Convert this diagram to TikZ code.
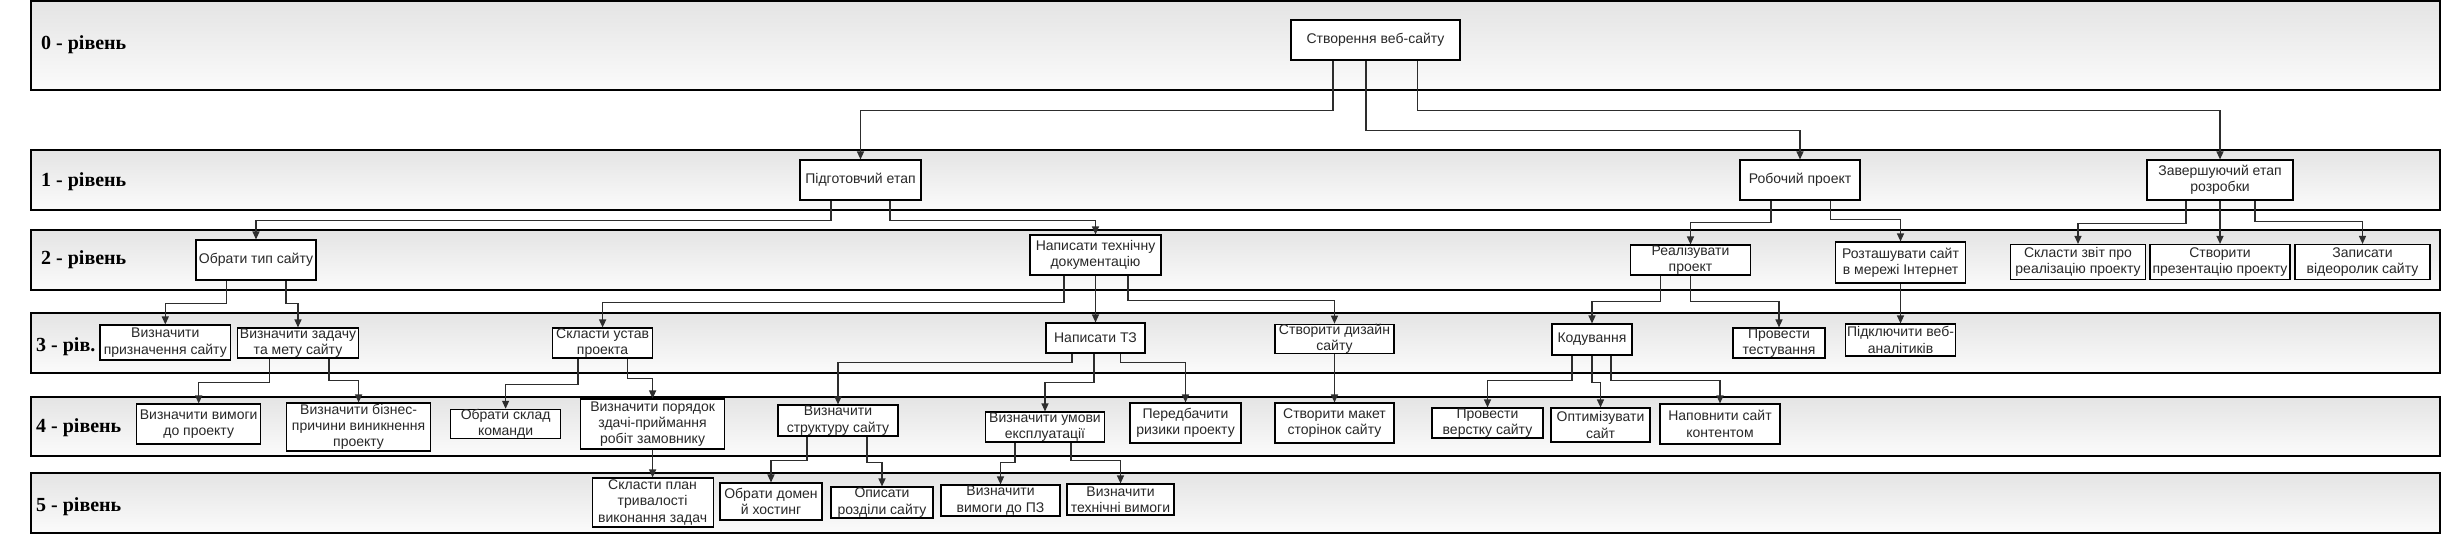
\documentclass[tikz,border=0pt]{standalone}
\usepackage{fontspec}
\setmainfont{Liberation Sans}
\newfontfamily\lblfont{Liberation Serif}
\usetikzlibrary{arrows.meta}
\definecolor{txt}{RGB}{40,40,40}
\definecolor{bandtop}{RGB}{228,228,228}
\definecolor{bandbot}{RGB}{251,251,251}
\definecolor{conncol}{RGB}{45,45,45}
\tikzset{
  band/.style={draw=black, line width=1.4pt, top color=bandtop, bottom color=bandbot},
  lbl/.style={anchor=west, inner sep=0pt, font=\lblfont\bfseries\fontsize{20}{22}\selectfont},
  box/.style={draw=black, fill=white, line width=1.1pt, inner sep=0pt, align=center, text=txt,
    font=\fontsize{14}{16.3}\selectfont},
  conn/.style={draw=conncol, line width=1.2pt, -{Triangle[length=8pt,width=7pt]}},
}
\newcommand{\bx}[6]{\node[box, minimum width=#4pt, minimum height=#5pt] (#1) at (#2,#3) {#6};}
\begin{document}
\begin{tikzpicture}[x=1pt,y=-1pt]
\useasboundingbox (0,0) rectangle (2442,535);
% bands
\path[band] (31,1) rectangle (2440,90);
\path[band] (31,150) rectangle (2440,210);
\path[band] (31,230) rectangle (2440,290);
\path[band] (31,313) rectangle (2440,373);
\path[band] (31,397) rectangle (2440,456);
\path[band] (31,473) rectangle (2440,533);
\node[lbl] (l0) at (41,45) {0 - рівень};
\node[lbl] (l1) at (41,182) {1 - рівень};
\node[lbl] (l2) at (41,260) {2 - рівень};
\node[lbl] (l3) at (36,347) {3 - рів.};
\node[lbl] (l4) at (36,428) {4 - рівень};
\node[lbl] (l5) at (36,507) {5 - рівень};
% nodes
\bx{root}{1375.5}{40}{169}{40}{Створення веб-сайту}
\bx{p1}{860.5}{180}{121}{40}{Підготовчий етап}
\bx{p2}{1800}{180}{120}{40}{Робочий проект}
\bx{p3}{2220}{180}{146}{40}{Завершуючий етап\\розробки}
\bx{a1}{256}{260}{120}{40}{Обрати тип сайту}
\bx{a2}{1095.5}{255}{131}{40}{Написати технічну\\документацію}
\bx{b1}{1690.5}{260}{120}{30}{Реалізувати\\проект}
\bx{b2}{1900.5}{262.5}{130}{41}{Розташувати сайт\\в мережі Інтернет}
\bx{c1}{2078}{262}{135}{35}{Скласти звіт про\\реалізацію проекту}
\bx{c2}{2220}{262}{140}{35}{Створити\\презентацію проекту}
\bx{c3}{2362.5}{262}{135}{35}{Записати\\відеоролик сайту}
\bx{d1}{165.3}{342.5}{130.6}{35}{Визначити\\призначення сайту}
\bx{d2}{298}{343}{121}{30}{Визначити задачу\\та мету сайту}
\bx{d3}{602.6}{343}{100}{30}{Скласти устав\\проекта}
\bx{d4}{1095.5}{338}{99}{30}{Написати ТЗ}
\bx{d5}{1334.5}{339}{119}{28}{Створити дизайн\\сайту}
\bx{d6}{1592}{339.5}{80}{31}{Кодування}
\bx{d7}{1779}{343}{92}{30}{Провести\\тестування}
\bx{d8}{1900.5}{340}{110}{32}{Підключити веб-\\аналітиків}
\bx{e1}{198.7}{424}{124}{40}{Визначити вимоги\\до проекту}
\bx{e2}{358.6}{427}{144}{48}{Визначити бізнес-\\причини виникнення\\проекту}
\bx{e3}{505.6}{424}{110}{28}{Обрати склад\\команди}
\bx{e4}{652.6}{424}{144}{50}{Визначити порядок\\здачі-приймання\\робіт замовнику}
\bx{e5}{838}{420.5}{120}{31}{Визначити\\структуру сайту}
\bx{e6}{1045}{427}{119.5}{30}{Визначити умови\\експлуатації}
\bx{e7}{1185.5}{423}{111}{40}{Передбачити\\ризики проекту}
\bx{e8}{1334.5}{423}{119}{40}{Створити макет\\сторінок сайту}
\bx{e9}{1487.5}{423}{111}{30}{Провести\\верстку сайту}
\bx{e10}{1600.5}{425}{99}{34}{Оптимізувати\\сайт}
\bx{e11}{1720}{424}{120}{40}{Наповнити сайт\\контентом}
\bx{f1}{652.6}{502.5}{121}{49}{Скласти план\\тривалості\\виконання задач}
\bx{f2}{771}{501.5}{102}{37}{Обрати домен\\й хостинг}
\bx{f3}{882}{502.5}{102}{31}{Описати\\розділи сайту}
\bx{f4}{1000.5}{500.5}{119}{31}{Визначити\\вимоги до ПЗ}
\bx{f5}{1120.5}{499.5}{107}{31}{Визначити\\технічні вимоги}
% connectors
\draw[conn] ([xshift=-42.5pt]root.south) -- ++(0,50) -| (p1.north);
\draw[conn] ([xshift=-9.5pt]root.south) -- ++(0,70) -| (p2.north);
\draw[conn] ([xshift=42pt]root.south) -- ++(0,50) -| (p3.north);
\draw[conn] ([xshift=-29.5pt]p1.south) -- ++(0,20) -| (a1.north);
\draw[conn] ([xshift=29.5pt]p1.south) -- ++(0,20) -| (a2.north);
\draw[conn] ([xshift=-29pt]p2.south) -- ++(0,22) -| (b1.north);
\draw[conn] ([xshift=30.7pt]p2.south) -- ++(0,19) -| (b2.north);
\draw[conn] ([xshift=-34pt]p3.south) -- ++(0,23) -| (c1.north);
\draw[conn] (p3.south) -- (c2.north);
\draw[conn] ([xshift=35pt]p3.south) -- ++(0,21) -| (c3.north);
\draw[conn] ([xshift=-29.5pt]a1.south) -- ++(0,23) -| (d1.north);
\draw[conn] ([xshift=30pt]a1.south) -- ++(0,23) -| (d2.north);
\draw[conn] ([xshift=-31.5pt]a2.south) -- ++(0,27) -| (d3.north);
\draw[conn] (a2.south) -- (d4.north);
\draw[conn] ([xshift=32.5pt]a2.south) -- ++(0,25) -| (d5.north);
\draw[conn] ([xshift=-29.7pt]b1.south) -- ++(0,26) -| (d6.north);
\draw[conn] (b1.south) -- ++(0,26) -| (d7.north);
\draw[conn] (b2.south) -- (d8.north);
\draw[conn] ([xshift=-28.6pt]d2.south) -- ++(0,24) -| (e1.north);
\draw[conn] ([xshift=31pt]d2.south) -- ++(0,22) -| (e2.north);
\draw[conn] ([xshift=-24.6pt]d3.south) -- ++(0,26) -| (e3.north);
\draw[conn] ([xshift=25pt]d3.south) -- ++(0,20) -| (e4.north);
\draw[conn] ([xshift=-23.5pt]d4.south) -- ++(0,9) -| (e5.north);
\draw[conn] ([xshift=-1.5pt]d4.south) -- ++(0,29) -| (e6.north);
\draw[conn] ([xshift=25pt]d4.south) -- ++(0,9) -| (e7.north);
\draw[conn] (d5.south) -- (e8.north);
\draw[conn] ([xshift=-20pt]d6.south) -- ++(0,25) -| (e9.north);
\draw[conn] (d6.south) -- ++(0,27) -| (e10.north);
\draw[conn] ([xshift=19pt]d6.south) -- ++(0,25) -| (e11.north);
\draw[conn] (e4.south) -- (f1.north);
\draw[conn] ([xshift=-31pt]e5.south) -- ++(0,24) -| (f2.north);
\draw[conn] ([xshift=29pt]e5.south) -- ++(0,26) -| (f3.north);
\draw[conn] ([xshift=-30pt]e6.south) -- ++(0,20) -| (f4.north);
\draw[conn] ([xshift=26pt]e6.south) -- ++(0,18) -| (f5.north);
\end{tikzpicture}
\end{document}
